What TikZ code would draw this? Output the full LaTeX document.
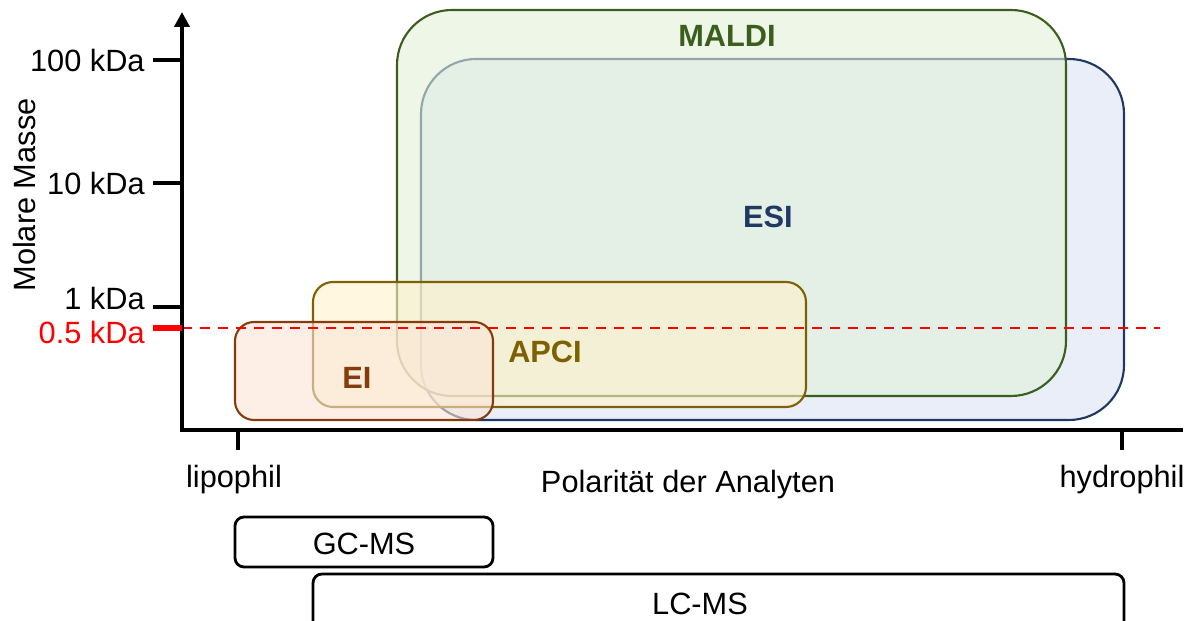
\documentclass[tikz,border=0pt]{standalone}
\usepackage{fontspec}
\setmainfont{Liberation Sans}
\usetikzlibrary{arrows.meta}
\definecolor{maldiC}{HTML}{3B5E1F}
\definecolor{maldiF}{HTML}{E2F0D9}
\definecolor{esiC}{HTML}{203864}
\definecolor{esiF}{HTML}{DAE3F3}
\definecolor{apciC}{HTML}{7F6000}
\definecolor{apciF}{HTML}{FFF2CC}
\definecolor{eiC}{HTML}{843C0C}
\definecolor{eiF}{HTML}{FBE5D6}

\begin{document}
\begin{tikzpicture}[
  lbl/.style={font=\fontsize{17.5}{20}\selectfont},
  big/.style={font=\fontsize{17.5}{20}\selectfont\bfseries},
  ticklbl/.style={lbl, anchor=east, inner sep=0pt},
  axis/.style={line width=2.3pt},
  region/.style={line width=1.2pt, fill opacity=0.6},
  chrom/.style={draw, line width=1.6pt, rounded corners=0.18cm},
]
\useasboundingbox (0,0) rectangle (23.78,12.42);

\draw[region, draw=esiC, fill=esiF, rounded corners=1.1cm] (8.42,4.02) rectangle (22.48,11.24);
\draw[region, draw=maldiC, fill=maldiF, rounded corners=1.1cm] (7.94,4.50) rectangle (21.32,12.22);
\draw[region, draw=apciC, fill=apciF, rounded corners=0.4cm] (6.26,4.28) rectangle (16.12,6.78);
\draw[region, draw=eiC, fill=eiF, rounded corners=0.38cm] (4.70,4.02) rectangle (9.86,5.98);

\node[big, text=maldiC] (maldi) at (14.54, 11.70) {MALDI};
\node[big, text=esiC] (esi) at (15.36, 8.08) {ESI};
\node[big, text=apciC] (apci) at (10.90, 5.38) {APCI};
\node[big, text=eiC] (ei) at (7.14, 4.86) {EI};

\coordinate (o) at (3.64, 3.82);
\coordinate (ytop) at (3.64, 12.18);
\coordinate (xend) at (23.66, 3.82);
\coordinate (t100) at (3.06, 11.22);
\coordinate (t10) at (3.06, 8.76);
\coordinate (t1) at (3.06, 6.28);
\coordinate (t05) at (3.06, 5.86);
\coordinate (redend) at (23.20, 5.86);
\coordinate (lip) at (4.76, 3.42);
\coordinate (hyd) at (22.44, 3.42);

\draw[red, line width=1.4pt, dash pattern=on 0.2cm off 0.16cm] (3.64, 5.86) -- (redend);

\draw[axis, -{Triangle[length=0.3cm, width=0.3cm]}] (o) -- (ytop);
\draw[axis] (3.6, 3.82) -- (xend);
\draw[axis] (t100) -- (3.64, 11.22);
\draw[axis] (t10) -- (3.64, 8.76);
\draw[axis] (t1) -- (3.64, 6.28);
\draw[red, line width=3.4pt] (t05) -- (3.64, 5.86);
\draw[axis] (4.76, 3.82) -- (lip);
\draw[axis] (22.44, 3.82) -- (hyd);

\node[ticklbl] (l100) at (2.90, 11.20) {100 kDa};
\node[ticklbl] (l10) at (2.90, 8.74) {10 kDa};
\node[ticklbl] (l1) at (2.90, 6.44) {1 kDa};
\node[ticklbl, text=red] (l05) at (2.90, 5.76) {0.5 kDa};
\node[lbl, rotate=90] (ylab) at (0.50, 8.52) {Molare Masse};

\node[lbl] (lipo) at (4.68, 2.82) {lipophil};
\node[lbl] (xlab) at (13.76, 2.72) {Polarität der Analyten};
\node[lbl] (hydro) at (22.44, 2.82) {hydrophil};

\draw[chrom] (4.70,1.08) rectangle (9.86,2.08);
\node[lbl] (gcms) at (7.28, 1.54) {GC-MS};
\draw[chrom] (6.26,-0.40) rectangle (22.48,0.94);
\node[lbl] (lcms) at (14.00, 0.34) {LC-MS};

\end{tikzpicture}
\end{document}
